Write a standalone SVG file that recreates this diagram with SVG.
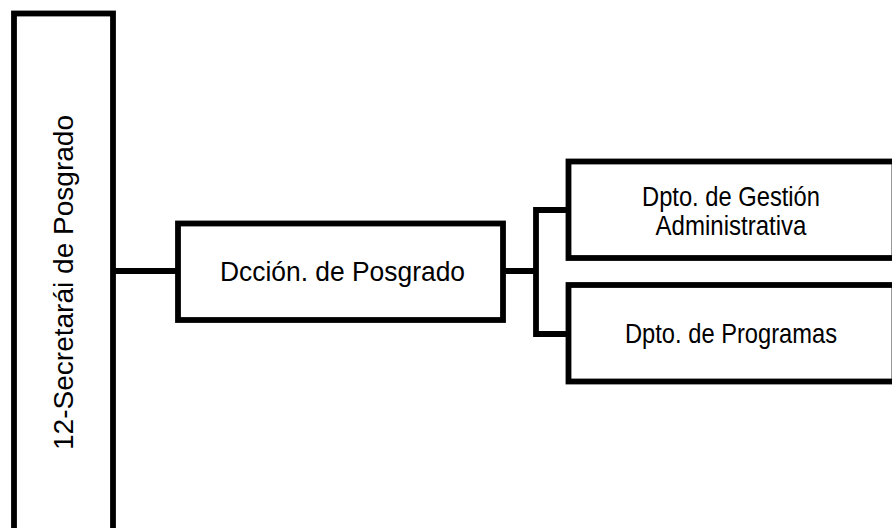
<svg xmlns="http://www.w3.org/2000/svg" width="892" height="528" viewBox="0 0 892 528">
<style>
.box{fill:#fff;stroke:#000;stroke-width:5.8;}
.lbl{font-family:"Liberation Sans",Arial,sans-serif;font-size:27.5px;fill:#000;text-anchor:middle;}
.con{fill:none;stroke:#000;stroke-width:5.8;}
</style>
<rect width="892" height="528" fill="#fff"/>
<g id="connectors">
<line class="con" x1="113" y1="271" x2="178" y2="271"/>
<line class="con" x1="503" y1="271" x2="536" y2="271"/>
<polyline class="con" points="568.5,210 536,210 536,334 568.5,334"/>
</g>
<g id="secretaria">
<rect class="box" x="14" y="13.5" width="99" height="530"/>
<text class="lbl" transform="translate(72.5,282.5) rotate(-90)" font-size="28.5" textLength="335" lengthAdjust="spacingAndGlyphs">12-Secretarái de Posgrado</text>
</g>
<g id="direccion">
<rect class="box" x="178" y="223.5" width="325" height="96.5"/>
<text class="lbl" x="342.5" y="281" textLength="245" lengthAdjust="spacingAndGlyphs">Dcción. de Posgrado</text>
</g>
<g id="gestion">
<rect class="box" x="568.5" y="161.5" width="326" height="96.5"/>
<text class="lbl" x="731" y="206" textLength="178" lengthAdjust="spacingAndGlyphs">Dpto. de Gestión</text>
<text class="lbl" x="731" y="234.5" textLength="151" lengthAdjust="spacingAndGlyphs">Administrativa</text>
</g>
<g id="programas">
<rect class="box" x="568.5" y="285" width="326" height="96.5"/>
<text class="lbl" x="731" y="342.5" textLength="212" lengthAdjust="spacingAndGlyphs">Dpto. de Programas</text>
</g>
</svg>
